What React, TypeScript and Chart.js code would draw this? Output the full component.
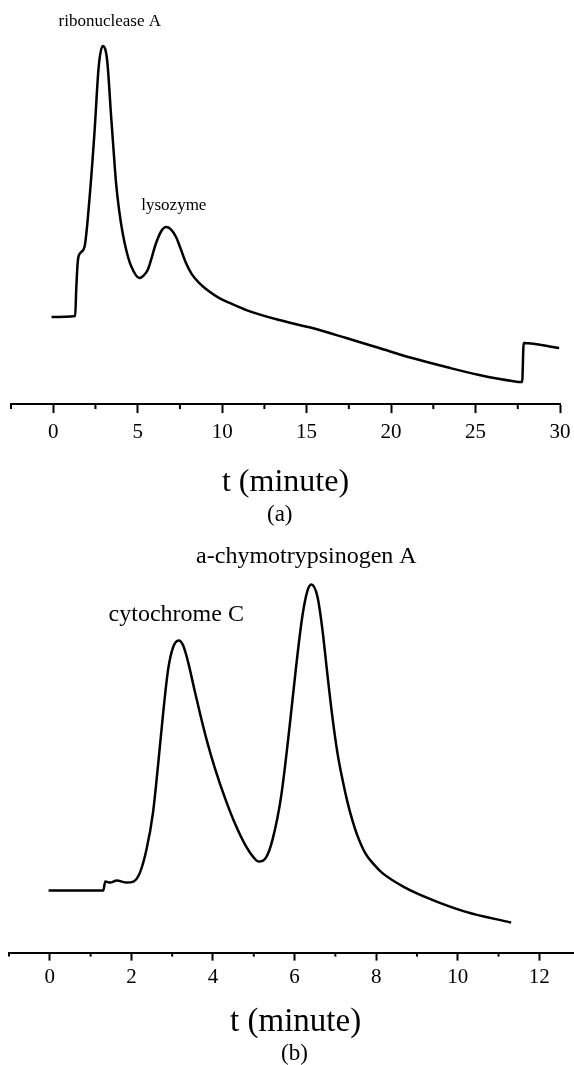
import React, { useEffect, useRef } from 'react';
import { Chart, registerables } from 'chart.js';

Chart.register(...registerables);

const SERIF = "'Liberation Serif', 'Times New Roman', Times, serif";

// ---------- Panel (a) ----------
const timeA = [-0.1, 1.3, 1.36, 1.45, 1.6, 1.85, 2.14, 2.44, 2.69, 2.93, 3.19, 3.43, 3.55, 3.72, 3.9, 4.11, 4.35, 4.61, 5.1, 5.35, 5.59, 6.09, 6.4, 6.68, 6.95, 7.27, 7.55, 7.86, 8.2, 8.65, 9.2, 9.83, 10.6, 11.43, 13.38, 15.34, 17.35, 19.3, 21.25, 23.27, 25.22, 27.17, 27.76, 27.85, 29.95];
const signalA = [8.7, 8.8, 11.4, 14.2, 15.1, 15.7, 20.4, 27.1, 33.7, 35.8, 34.4, 28.7, 25.9, 22.1, 19.4, 17.1, 15.2, 13.8, 12.6, 12.85, 13.4, 16.1, 17.3, 17.7, 17.5, 16.7, 15.5, 14.1, 13.0, 12.1, 11.3, 10.6, 10.0, 9.4, 8.4, 7.6, 6.6, 5.6, 4.6, 3.7, 2.9, 2.3, 2.2, 6.1, 5.6];
const peakNamesA = ['ribonuclease A', 'lysozyme'];
const peakNameTimesA = [3.35, 7.14];
const peakNameSignalsA = [38.2, 19.9];
const axisMinA = -2.5;
const axisMaxA = 30;
const minorStepA = 2.5;
const majorStepA = 5;

// ---------- Panel (b) ----------
const timeB = [-0.03, 1.31, 1.36, 1.48, 1.64, 1.89, 2.05, 2.21, 2.37, 2.53, 2.66, 2.78, 2.9, 3.02, 3.16, 3.27, 3.4, 3.55, 3.7, 3.85, 4.05, 4.3, 4.55, 4.8, 5.0, 5.12, 5.3, 5.46, 5.67, 5.87, 6.03, 6.19, 6.31, 6.41, 6.56, 6.68, 6.8, 6.92, 7.05, 7.18, 7.3, 7.42, 7.55, 7.74, 7.95, 8.14, 8.71, 9.36, 10.18, 11.31];
const signalB = [6.2, 6.2, 7.1, 7.0, 7.2, 7.0, 7.1, 8.0, 10.3, 14.0, 19.0, 24.0, 28.3, 30.5, 31.2, 30.7, 28.9, 26.2, 23.6, 21.2, 18.4, 15.4, 12.8, 10.7, 9.5, 9.1, 9.5, 11.3, 15.6, 22.3, 28.3, 33.6, 36.1, 36.8, 35.6, 32.4, 28.0, 23.8, 20.0, 17.2, 15.0, 13.2, 11.6, 9.9, 8.8, 8.0, 6.5, 5.3, 4.1, 3.0];
const peakNamesB = ['cytochrome C', 'a-chymotrypsinogen A'];
const peakNameTimesB = [3.1, 6.29];
const peakNameSignalsB = [33.8, 39.6];
const axisMinB = -1;
const axisMaxB = 12.85;
const minorStepB = 1;
const majorStepB = 2;

const AXIS_TITLE = 't (minute)';

type PanelSpec = {
  times: number[];
  signals: number[];
  names: string[];
  nameTimes: number[];
  nameSignals: number[];
  min: number;
  max: number;
  minorStep: number;
  majorStep: number;
  minorLen: number;
  majorLen: number;
  tickPad: number;
  tickLH: number;
  titleSize: number;
  titlePadTop: number;
  titleText: string;
  subText: string;
  subLH: number;
  subPadTop: number;
  nameSize: number;
  padding: { left: number; right: number; top: number; bottom: number };
};

function buildConfig(s: PanelSpec): any {
  const isMajor = (v: number) => Math.abs(v / s.majorStep - Math.round(v / s.majorStep)) < 1e-6;
  const overlay = {
    id: 'overlay',
    afterDraw(chart: any) {
      const { ctx } = chart;
      const x = chart.scales.x;
      const y = chart.scales.y;
      ctx.save();
      ctx.strokeStyle = '#000';
      ctx.lineWidth = 2;
      for (const tk of x.ticks) {
        if (!isMajor(tk.value)) {
          const px = x.getPixelForValue(tk.value);
          ctx.beginPath();
          ctx.moveTo(px, x.top);
          ctx.lineTo(px, x.top + s.minorLen);
          ctx.stroke();
        }
      }
      ctx.fillStyle = '#000';
      ctx.textAlign = 'center';
      ctx.textBaseline = 'middle';
      ctx.font = `${s.nameSize}px ${SERIF}`;
      s.names.forEach((n, i) => {
        ctx.fillText(n, x.getPixelForValue(s.nameTimes[i]), y.getPixelForValue(s.nameSignals[i]));
      });
      ctx.restore();
    },
  };
  return {
    type: 'line',
    data: {
      datasets: [
        {
          data: s.times.map((t, i) => ({ x: t, y: s.signals[i] })),
          borderColor: '#000',
          borderWidth: 2.5,
          pointRadius: 0,
          fill: false,
          cubicInterpolationMode: 'monotone',
        },
      ],
    },
    options: {
      responsive: false,
      animation: false,
      events: [],
      layout: { padding: s.padding },
      plugins: {
        legend: { display: false },
        tooltip: { enabled: false },
        subtitle: {
          display: true,
          position: 'bottom',
          text: s.subText,
          color: '#000',
          font: { family: SERIF, size: 23, lineHeight: s.subLH, weight: 'normal' },
          padding: { top: s.subPadTop, bottom: 0 },
        },
      },
      scales: {
        x: {
          type: 'linear',
          min: s.min,
          max: s.max,
          border: { display: true, color: '#000', width: 2 },
          grid: {
            display: true,
            drawOnChartArea: false,
            drawTicks: true,
            tickLength: s.majorLen,
            tickWidth: 2,
            tickColor: (c: any) => (c.tick && isMajor(c.tick.value) ? '#000' : 'rgba(0,0,0,0)'),
          },
          ticks: {
            stepSize: s.minorStep,
            includeBounds: false,
            autoSkip: false,
            maxRotation: 0,
            padding: s.tickPad,
            color: '#000',
            font: { family: SERIF, size: 21, lineHeight: s.tickLH },
            callback: (v: any) => (isMajor(Number(v)) ? String(Math.round(Number(v))) : ''),
          },
          title: {
            display: true,
            text: s.titleText,
            color: '#000',
            font: { family: SERIF, size: s.titleSize, lineHeight: 1.2 },
            padding: { top: s.titlePadTop, bottom: 0 },
          },
        },
        y: {
          type: 'linear',
          display: false,
          min: 0,
          max: 40,
        },
      },
    },
    plugins: [overlay],
  };
}

const specA: PanelSpec = {
  times: timeA,
  signals: signalA,
  names: peakNamesA,
  nameTimes: peakNameTimesA,
  nameSignals: peakNameSignalsA,
  min: axisMinA,
  max: axisMaxA,
  minorStep: minorStepA,
  majorStep: majorStepA,
  minorLen: 5,
  majorLen: 9,
  tickPad: 3,
  tickLH: 1.52,
  titleSize: 32,
  titlePadTop: 12,
  titleText: AXIS_TITLE,
  subText: '(a)  ',
  subLH: 1.2,
  subPadTop: 0,
  nameSize: 17,
  padding: { left: 11, right: 14, top: 4, bottom: 11 },
};

const specB: PanelSpec = {
  times: timeB,
  signals: signalB,
  names: peakNamesB,
  nameTimes: peakNameTimesB,
  nameSignals: peakNameSignalsB,
  min: axisMinB,
  max: axisMaxB,
  minorStep: minorStepB,
  majorStep: majorStepB,
  minorLen: 4,
  majorLen: 8,
  tickPad: 5,
  tickLH: 1.14,
  titleSize: 33,
  titlePadTop: 8,
  titleText: ' ' + AXIS_TITLE,
  subText: ' (b)',
  subLH: 0.95,
  subPadTop: 1,
  nameSize: 24,
  padding: { left: 9, right: 0, top: 27.55, bottom: 0 },
};

function Panel({ spec, top, height }: { spec: PanelSpec; top: number; height: number }) {
  const ref = useRef<HTMLCanvasElement | null>(null);
  useEffect(() => {
    if (!ref.current) return;
    const chart = new Chart(ref.current, buildConfig(spec));
    return () => chart.destroy();
  }, [spec]);
  return (
    <canvas
      ref={ref}
      width={574}
      height={height}
      style={{ position: 'absolute', left: 0, top, width: 574, height }}
    />
  );
}

export default function App() {
  return (
    <div style={{ position: 'absolute', left: 0, top: 0, width: 574, height: 1065, background: '#fff', overflow: 'hidden' }}>
      <Panel spec={specA} top={0} height={540} />
      <Panel spec={specB} top={525} height={540} />
    </div>
  );
}
